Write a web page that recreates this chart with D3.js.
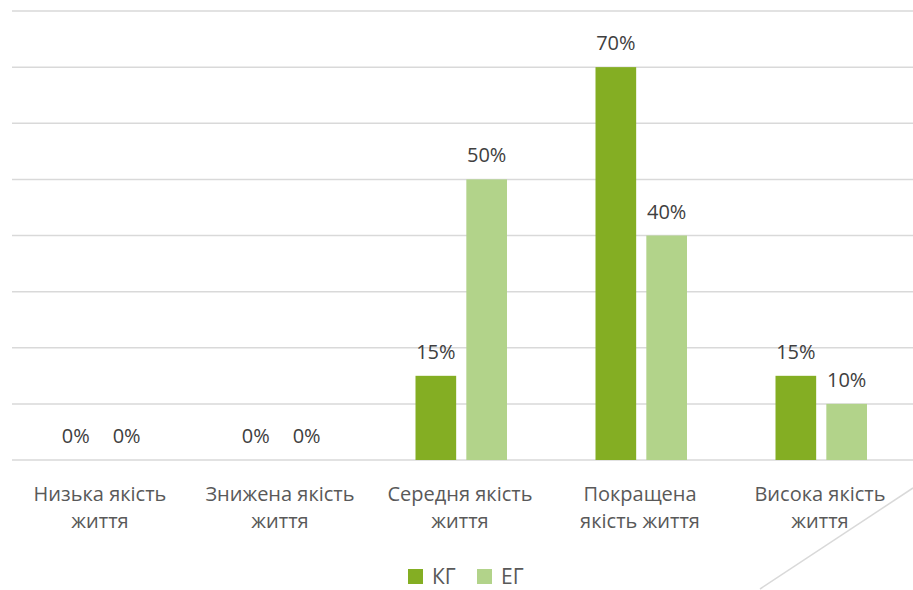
<!DOCTYPE html>
<html>
<head>
<meta charset="utf-8">
<script src="https://cdn.jsdelivr.net/npm/d3@7"></script>
<style>
  body { margin: 0; background: #fff; }
  svg { display: block; font-family: "Open Sans", "Noto Sans", sans-serif; }
</style>
</head>
<body>
<svg></svg>
<script>
// категорії та значення
const categories = [
  ["Низька якість", "життя"],
  ["Знижена якість", "життя"],
  ["Середня якість", "життя"],
  ["Покращена", "якість життя"],
  ["Висока якість", "життя"]
];
const seriesNames = ["КГ", "ЕГ"];
const kgValues = [0, 0, 15, 70, 15];
const egValues = [0, 0, 50, 40, 10];
const gridTicks = [0, 10, 20, 30, 40, 50, 60, 70, 80];

const colors = ["#84AE23", "#B2D38A"];

let width = 913;
let height = 590;

let svg = d3.select("svg")
  .attr("width", width)
  .attr("height", height);

let xScale = d3.scaleBand()
  .domain(d3.range(categories.length))
  .range([10, 910]);

let yScale = d3.scaleLinear()
  .domain([0, 80])
  .range([460, 11]);

let inner = d3.scaleBand()
  .domain([0, 1])
  .range([-44.5, 47])
  .paddingInner(0.2);

// сітка
svg.append("g")
  .selectAll("line")
  .data(gridTicks)
  .enter()
  .append("line")
  .attr("x1", 12)
  .attr("x2", width)
  .attr("y1", d => yScale(d))
  .attr("y2", d => yScale(d))
  .attr("stroke", "#D9D9D9")
  .attr("stroke-width", 1.5);

const seriesData = [kgValues, egValues];

seriesData.forEach((vals, s) => {
  let g = svg.append("g");
  g.selectAll("rect")
    .data(vals)
    .enter()
    .append("rect")
    .attr("x", (d, i) => xScale(i) + xScale.bandwidth() / 2 + inner(s))
    .attr("width", inner.bandwidth())
    .attr("y", d => yScale(d))
    .attr("height", d => yScale(0) - yScale(d))
    .attr("fill", colors[s]);

  g.selectAll("text")
    .data(vals)
    .enter()
    .append("text")
    .attr("x", (d, i) => xScale(i) + xScale.bandwidth() / 2 + inner(s) + inner.bandwidth() / 2)
    .attr("y", d => yScale(d) - 17)
    .attr("text-anchor", "middle")
    .attr("font-size", 20)
    .attr("fill", "#404040")
    .text(d => d + "%");
});

// підписи категорій
let xAxis = svg.append("g");
categories.forEach((lines, i) => {
  let t = xAxis.append("text")
    .attr("x", xScale(i) + xScale.bandwidth() / 2)
    .attr("y", 501)
    .attr("text-anchor", "middle")
    .attr("font-size", 20)
    .attr("fill", "#595959");
  lines.forEach((ln, k) => {
    t.append("tspan")
      .attr("x", xScale(i) + xScale.bandwidth() / 2)
      .attr("dy", k === 0 ? 0 : 27)
      .text(ln);
  });
});

// легенда
let legend = svg.append("g");
const legendX = [408, 477];
seriesNames.forEach((name, s) => {
  legend.append("rect")
    .attr("x", legendX[s])
    .attr("y", 569)
    .attr("width", 15)
    .attr("height", 15)
    .attr("fill", colors[s]);
  legend.append("text")
    .attr("x", legendX[s] + 24)
    .attr("y", 584)
    .attr("font-size", 21)
    .attr("fill", "#595959")
    .text(name);
});

// декоративна лінія
svg.append("line")
  .attr("x1", 760)
  .attr("y1", 589)
  .attr("x2", 913)
  .attr("y2", 488)
  .attr("stroke", "#D9D9D9")
  .attr("stroke-width", 1.5);
</script>
</body>
</html>
